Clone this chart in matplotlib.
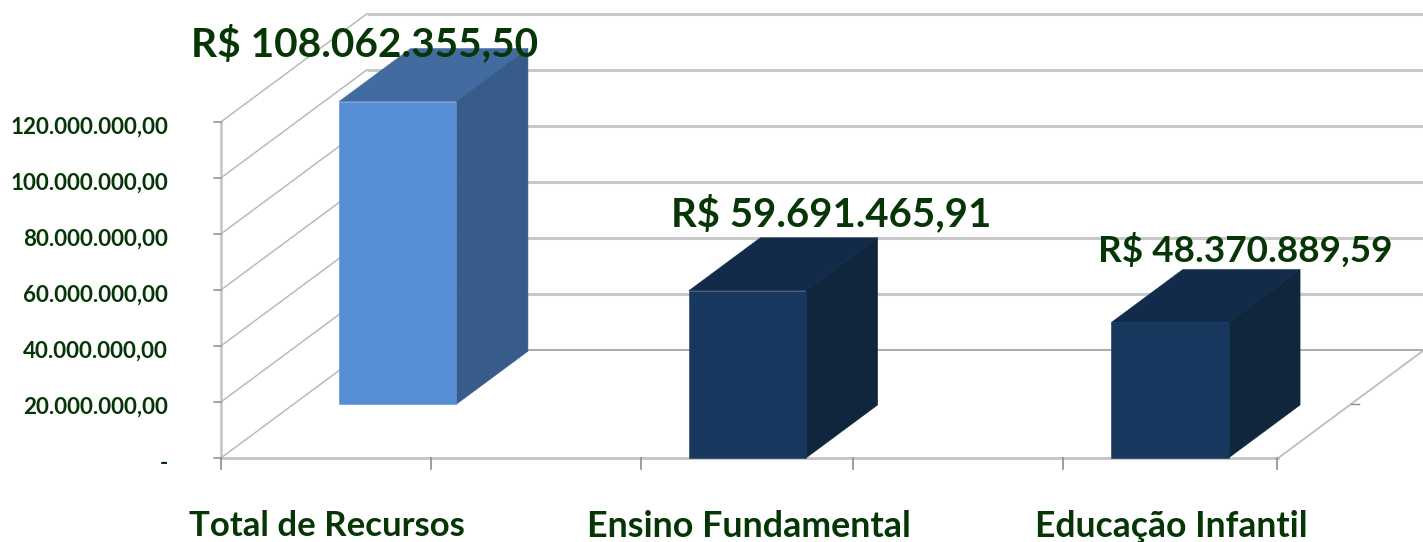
import matplotlib
matplotlib.use('Agg')
import matplotlib.pyplot as plt
from matplotlib.patches import Polygon

plt.rcParams['font.family'] = ['Lato', 'Open Sans', 'DejaVu Sans']

# --- DATA ---
categories = ["Total de Recursos", "Ensino Fundamental", "Educação Infantil"]
value_labels = ["R$ 108.062.355,50", "R$ 59.691.465,91", "R$ 48.370.889,59"]
values = [108062355.50, 59691465.91, 48370889.59]
baselines = [19200000, 0, 0]  # first bar floats above the floor in the original
bar_centers = [0.837, 2.492, 4.492]
y_ticks = [0, 20000000, 40000000, 60000000, 80000000, 100000000, 120000000]
y_tick_labels = ["-", "20.000.000,00", "40.000.000,00", "60.000.000,00",
                 "80.000.000,00", "100.000.000,00", "120.000.000,00"]
x_ticks = [0, 0.995, 1.99, 2.99, 3.985, 5]

# --- STYLE ---
TEXT_COLOR = '#063606'
BAR_FACES = [('#558ED5', '#426BA0', '#375C8A'),
             ('#17375E', '#132B4A', '#10263D'),
             ('#17375E', '#132B4A', '#10263D')]
BAR_WIDTH = 0.555
DEPTH_X = 0.691       # full depth of the 3d box in x units
DEPTH_Y = 38600000    # and in value units
BAR_DEPTH = 0.49      # bars fill about half of it

fig = plt.figure(figsize=(14.23, 5.42), dpi=100)
ax = fig.add_axes([0, 0, 1, 1])
ax.set_xlim(-1.046, 5.69)
ax.set_ylim(-30000000, 163500000)
ax.axis('off')

# --- LAYER 1: WALLS AND FLOOR ---
y_top = y_ticks[-1]
x_end = x_ticks[-1] + 0.005
for y in y_ticks:
    lw, col = (1.3, '#A6A6A6') if y == 0 else (2.2, '#C8C8C8')
    ax.plot([DEPTH_X, x_end + DEPTH_X], [y + DEPTH_Y, y + DEPTH_Y], color=col, lw=lw, zorder=1,
            solid_capstyle='butt')
    ax.plot([0, DEPTH_X], [y, y + DEPTH_Y], color='#B4B4B4', lw=1.0, zorder=1)
    ax.plot([-0.035, 0], [y, y], color='#8C8C8C', lw=1.1, zorder=2)

ax.plot([0, 0], [0, y_top], color='#C4C4C4', lw=1.8, zorder=1)
ax.plot([0, x_end], [0, 0], color='#C4C4C4', lw=2.0, zorder=1)
ax.plot([x_end, x_end + DEPTH_X], [0, DEPTH_Y], color='#BDBDBD', lw=1.3, zorder=1)
ax.plot([x_end + DEPTH_X / 2, x_end + DEPTH_X / 2 + 0.035], [DEPTH_Y / 2, DEPTH_Y / 2],
        color='#8C8C8C', lw=1.0, zorder=1)
for t in x_ticks:
    ax.plot([t, t], [-4000000, 0], color='#8C8C8C', lw=1.2, zorder=2)

# --- LAYER 2: BARS ---
for i, center in enumerate(bar_centers):
    x0 = center - BAR_WIDTH / 2
    x1 = center + BAR_WIDTH / 2
    y0 = baselines[i]
    y1 = baselines[i] + values[i]
    dx = DEPTH_X * BAR_DEPTH
    dy = DEPTH_Y * BAR_DEPTH
    front_c, top_c, side_c = BAR_FACES[i]
    ax.add_patch(Polygon([(x0, y1), (x1, y1), (x1 + dx, y1 + dy), (x0 + dx, y1 + dy)],
                         closed=True, fc=top_c, ec=top_c, lw=0.4, zorder=3))
    ax.add_patch(Polygon([(x1, y0), (x1 + dx, y0 + dy), (x1 + dx, y1 + dy), (x1, y1)],
                         closed=True, fc=side_c, ec=side_c, lw=0.4, zorder=3))
    ax.add_patch(Polygon([(x0, y0), (x1, y0), (x1, y1), (x0, y1)],
                         closed=True, fc=front_c, ec=front_c, lw=0.4, zorder=4))

# --- LAYER 3: TEXT ---
for y, lab in zip(y_ticks, y_tick_labels):
    ax.text(-0.25, y - 1900000, lab, ha='right', va='center', fontsize=16.1,
            fontweight='bold', color=TEXT_COLOR, zorder=6)

cat_x = [0.502, 2.5, 4.498]
for x, lab, fs in zip(cat_x, categories, [25.0, 25.8, 25.6]):
    ax.text(x, -24300000, lab, ha='center', va='center', fontsize=fs,
            fontweight='bold', color=TEXT_COLOR, zorder=6)

label_x = [0.680, 2.888, 4.849]
label_y = [147700000, 87300000, 74200000]
for x, y, lab, fs in zip(label_x, label_y, value_labels, [29.2, 28.9, 26.6]):
    ax.text(x, y, lab, ha='center', va='center', fontsize=fs,
            fontweight='bold', color=TEXT_COLOR, zorder=7)

fig.savefig('out.png', dpi=100, facecolor='white')
